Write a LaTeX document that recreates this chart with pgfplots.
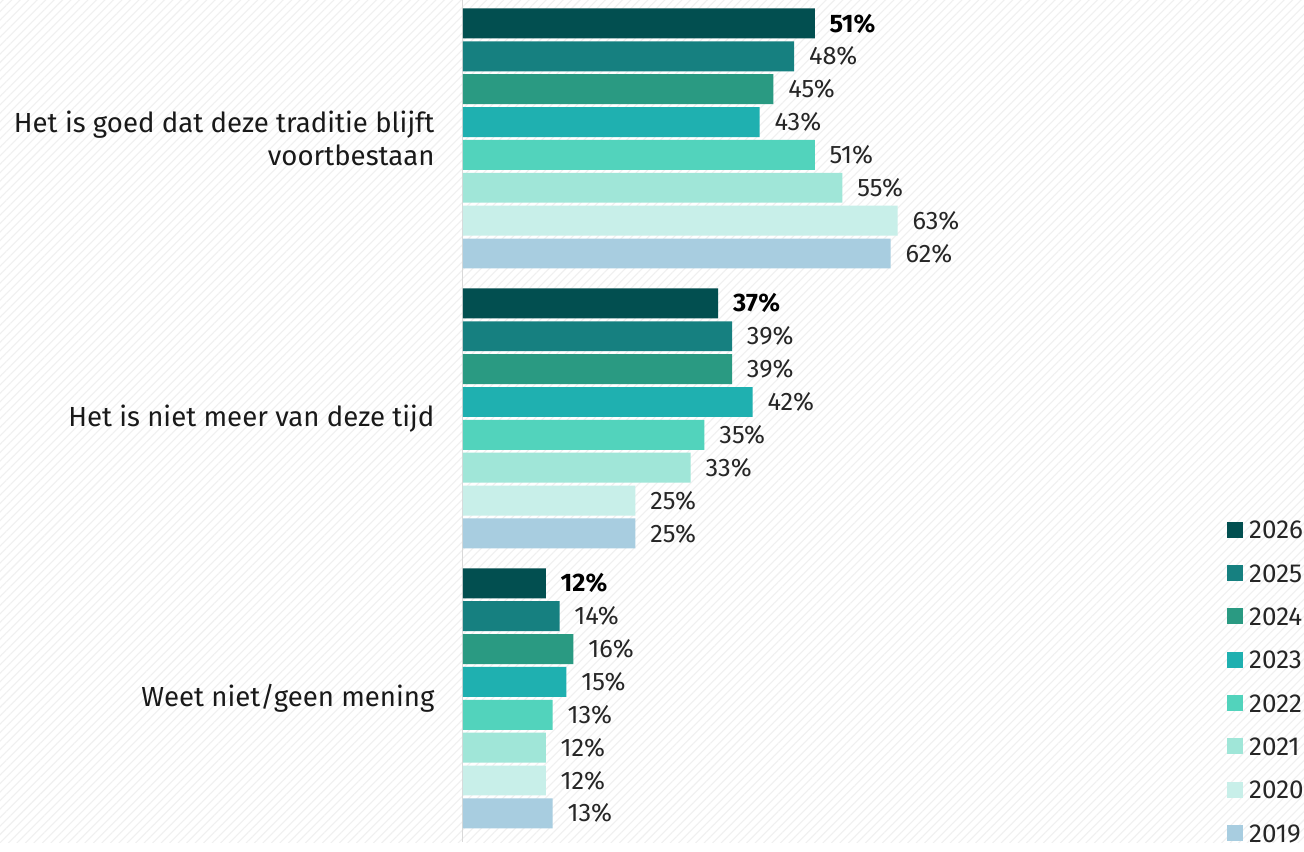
\documentclass[border=0pt]{standalone}
\usepackage{fontspec}
\setmainfont{Fira Sans}
\usepackage{pgfplots}
\pgfplotsset{compat=1.18}
\usetikzlibrary{patterns.meta}

\definecolor{c2026}{HTML}{024F50}
\definecolor{c2025}{HTML}{168080}
\definecolor{c2024}{HTML}{2A9A82}
\definecolor{c2023}{HTML}{1FB0B0}
\definecolor{c2022}{HTML}{52D3BC}
\definecolor{c2021}{HTML}{A0E6D8}
\definecolor{c2020}{HTML}{C8EFE9}
\definecolor{c2019}{HTML}{A8CDE0}

\pgfplotsset{
  yr/.style={fill=#1, draw=none,
    legend image code/.code={\fill[#1] (0pt,-6pt) rectangle (12pt,6pt);}},
}

\begin{document}
\begin{tikzpicture}
\begin{axis}[
    xbar,
    width=978pt, height=631.5pt, scale only axis,
    xmin=-67.1, xmax=121.9,
    ymin=-0.4929, ymax=2.5143, y dir=reverse,
    axis line style={draw=none},
    axis background/.style={fill=white,
      postaction={pattern={Lines[angle=45, distance=4.5pt, line width=0.8pt]}, pattern color=black!6}},
    /pgf/number format/assume math mode=true,
    xtick=\empty,
    extra x ticks={0},
    extra x tick labels={},
    extra x tick style={grid=major, major grid style={draw=black!15, line width=0.75pt}},
    major tick length=0pt,
    ytick={0,1,2},
    yticklabels={{Het is goed dat deze traditie blijft\\voortbestaan}, Het is niet meer van deze tijd, Weet niet/geen mening},
    yticklabel style={align=right, anchor=east, inner sep=0pt, xshift=326pt,
      font=\fontsize{20.7}{25}\selectfont, text=black!90},
    bar width=0.107,
    point meta=x,
    nodes near coords={\pgfmathprintnumber{\pgfplotspointmeta}\%},
    nodes near coords style={anchor=west, inner sep=0pt, xshift=11pt,
      font=\fontsize{19}{22}\selectfont, text=black!85},
    legend style={at={(1,0)}, anchor=south east, draw=none, fill=none,
      inner sep=0pt, row sep=19pt, font=\fontsize{19.5}{22}\selectfont,
      nodes={inner sep=0pt, text height=13.5pt, text depth=0pt, text=black!85},
      /tikz/every odd column/.style={column sep=5pt}},
    legend cell align=left,
]
% values per year: (percentage, statement 0/1/2)
\addplot[yr=c2026, bar shift=-0.4109,
  every node near coord/.append style={font=\fontsize{19}{22}\selectfont\bfseries, text=black}]
  coordinates {(51,0) (37,1) (12,2)};
\addplot[yr=c2025, bar shift=-0.2935] coordinates {(48,0) (39,1) (14,2)};
\addplot[yr=c2024, bar shift=-0.1761] coordinates {(45,0) (39,1) (16,2)};
\addplot[yr=c2023, bar shift=-0.0587] coordinates {(43,0) (42,1) (15,2)};
\addplot[yr=c2022, bar shift=0.0587] coordinates {(51,0) (35,1) (13,2)};
\addplot[yr=c2021, bar shift=0.1761] coordinates {(55,0) (33,1) (12,2)};
\addplot[yr=c2020, bar shift=0.2935] coordinates {(63,0) (25,1) (12,2)};
\addplot[yr=c2019, bar shift=0.4109] coordinates {(62,0) (25,1) (13,2)};
\legend{2026,2025,2024,2023,2022,2021,2020,2019}
\end{axis}
\end{tikzpicture}
\end{document}
